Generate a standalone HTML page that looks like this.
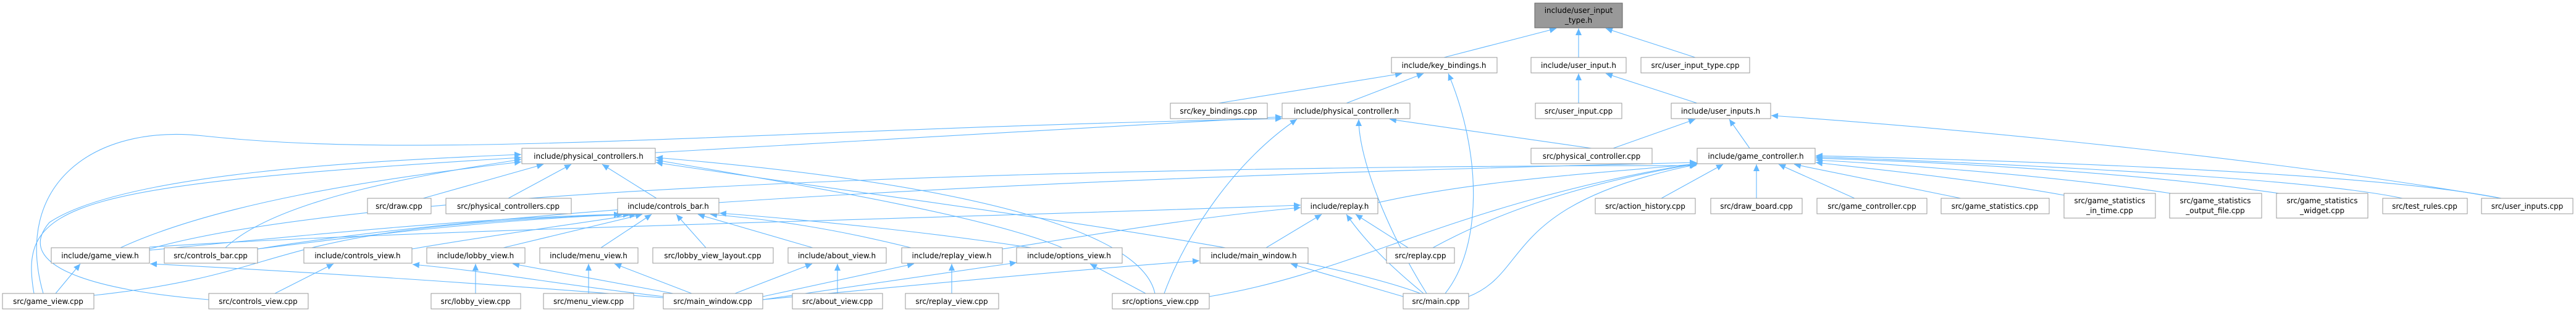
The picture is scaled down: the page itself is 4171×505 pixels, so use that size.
<!DOCTYPE html>
<html><head><meta charset="utf-8"><style>
html,body{margin:0;padding:0;background:#fff;}
svg{display:block;}
text{font-family:"DejaVu Sans","Liberation Sans",sans-serif;font-size:12px;fill:#000;}
.n{fill:#fff;stroke:#999;stroke-width:1;}
.e{fill:none;stroke:#63b8ff;stroke-width:1.1;}
</style></head><body>
<svg width="4171" height="505" viewBox="0 0 4171 505" xmlns="http://www.w3.org/2000/svg">
<defs><marker id="a" markerUnits="userSpaceOnUse" markerWidth="12" markerHeight="10" refX="11" refY="5" orient="auto"><path d="M0,0 L11,5 L0,10 z" fill="#63b8ff"/></marker></defs>
<g class="e" marker-end="url(#a)">
<path d="M2338,93 L2520,46"/>
<path d="M2556,93 L2556,46"/>
<path d="M2745,93 L2600,46"/>
<path d="M1973,167 L2270,119"/>
<path d="M2180,167 L2305,119"/>
<path d="M2340,475 C2400,400 2400,250 2345,119"/>
<path d="M2556,167 L2556,119"/>
<path d="M2748,167 L2600,119"/>
<path d="M1061,247 C1500,225 1800,205 2076,189"/>
<path d="M2577,240 L2250,193"/>
<path d="M2310,475 C2250,380 2200,260 2200,193"/>
<path d="M1885,475 C1920,380 2000,260 2100,193"/>
<path d="M70,475 C20,300 150,200 330,220 C700,260 1200,210 2076,192"/>
<path d="M823,321 L925,266"/>
<path d="M1063,321 L975,266"/>
<path d="M685,321 L880,266"/>
<path d="M195,401 C350,330 600,290 844,262"/>
<path d="M365,401 C450,320 700,280 844,258"/>
<path d="M55,475 C30,330 100,300 844,255"/>
<path d="M338,485 C150,470 20,430 80,360 C200,280 600,260 844,250"/>
<path d="M1720,401 C1600,350 1300,300 1062,259"/>
<path d="M2300,475 C2100,400 1500,330 1062,263"/>
<path d="M1870,475 C1850,380 1600,300 1062,255"/>
<path d="M2231,328 C2400,290 2600,280 2748,265"/>
<path d="M2690,321 L2790,266"/>
<path d="M2844,321 L2844,266"/>
<path d="M3003,321 L2880,266"/>
<path d="M3175,321 L2905,266"/>
<path d="M3342,316 C3200,290 3000,270 2940,263"/>
<path d="M3515,313 C3300,280 3000,262 2940,259"/>
<path d="M3690,313 C3400,270 3000,258 2940,256"/>
<path d="M3890,321 C3700,280 3000,256 2940,254"/>
<path d="M4050,321 C3800,270 3000,254 2940,252"/>
<path d="M4050,321 C3700,260 3200,210 2868,187"/>
<path d="M2833,240 L2800,193"/>
<path d="M2612,240 L2745,193"/>
<path d="M2320,401 C2450,330 2600,290 2748,265"/>
<path d="M2378,480 C2480,440 2430,330 2748,266"/>
<path d="M1958,480 C2200,440 2350,330 2748,264"/>
<path d="M242,403 C600,300 1800,268 2747,268"/>
<path d="M417,403 C800,340 1600,290 2747,263"/>
<path d="M242,405 C500,380 800,350 1010,347"/>
<path d="M417,403 C600,380 800,355 1020,347"/>
<path d="M667,403 C800,380 950,360 1030,347"/>
<path d="M815,401 L1040,347"/>
<path d="M973,401 L1055,347"/>
<path d="M1143,401 L1095,347"/>
<path d="M1316,401 L1130,347"/>
<path d="M1475,401 C1350,370 1250,355 1150,347"/>
<path d="M1670,401 C1500,375 1300,355 1165,345"/>
<path d="M152,478 C500,440 400,370 1005,347"/>
<path d="M1623,403 C1800,375 1950,350 2106,336"/>
<path d="M2050,401 L2140,347"/>
<path d="M2280,401 L2195,347"/>
<path d="M2305,475 C2250,430 2210,390 2180,347"/>
<path d="M242,400 C700,370 1500,355 2106,332"/>
<path d="M2272,480 L2090,427"/>
<path d="M1235,485 C1500,460 1700,440 1942,422"/>
<path d="M770,475 L770,427"/>
<path d="M953,475 L953,427"/>
<path d="M1356,475 L1356,427"/>
<path d="M1541,475 L1541,427"/>
<path d="M1855,475 L1765,427"/>
<path d="M90,475 L130,427"/>
<path d="M445,475 L540,427"/>
<path d="M1074,482 C800,460 500,440 243,427"/>
<path d="M1074,480 C900,460 800,440 668,428"/>
<path d="M1090,475 L830,427"/>
<path d="M1120,475 L995,427"/>
<path d="M1190,475 L1315,427"/>
<path d="M1235,480 L1480,427"/>
<path d="M1235,485 L1646,425"/>
</g>
<g>
<rect x="2485" y="5" width="142" height="40" fill="#999" stroke="#666"/>
<text x="2556" y="21" text-anchor="middle">include/user_input</text><text x="2556" y="37" text-anchor="middle">_type.h</text>
<rect class="n" x="2253" y="93" width="171" height="25"/><text x="2338" y="110" text-anchor="middle">include/key_bindings.h</text>
<rect class="n" x="2479" y="93" width="154" height="25"/><text x="2556" y="110" text-anchor="middle">include/user_input.h</text>
<rect class="n" x="2657" y="93" width="176" height="25"/><text x="2745" y="110" text-anchor="middle">src/user_input_type.cpp</text>
<rect class="n" x="1895" y="167" width="157" height="25"/><text x="1973" y="184" text-anchor="middle">src/key_bindings.cpp</text>
<rect class="n" x="2076" y="167" width="207" height="25"/><text x="2180" y="184" text-anchor="middle">include/physical_controller.h</text>
<rect class="n" x="2486" y="167" width="140" height="25"/><text x="2556" y="184" text-anchor="middle">src/user_input.cpp</text>
<rect class="n" x="2706" y="167" width="161" height="25"/><text x="2786" y="184" text-anchor="middle">include/user_inputs.h</text>
<rect class="n" x="845" y="240" width="216" height="25"/><text x="953" y="257" text-anchor="middle">include/physical_controllers.h</text>
<rect class="n" x="2479" y="240" width="196" height="25"/><text x="2577" y="257" text-anchor="middle">src/physical_controller.cpp</text>
<rect class="n" x="2748" y="240" width="191" height="25"/><text x="2843" y="257" text-anchor="middle">include/game_controller.h</text>
<rect class="n" x="595" y="321" width="103" height="25"/><text x="646" y="338" text-anchor="middle">src/draw.cpp</text>
<rect class="n" x="722" y="321" width="203" height="25"/><text x="823" y="338" text-anchor="middle">src/physical_controllers.cpp</text>
<rect class="n" x="1000" y="321" width="164" height="25"/><text x="1082" y="338" text-anchor="middle">include/controls_bar.h</text>
<rect class="n" x="2107" y="321" width="124" height="25"/><text x="2169" y="338" text-anchor="middle">include/replay.h</text>
<rect class="n" x="2583" y="321" width="162" height="25"/><text x="2664" y="338" text-anchor="middle">src/action_history.cpp</text>
<rect class="n" x="2770" y="321" width="148" height="25"/><text x="2844" y="338" text-anchor="middle">src/draw_board.cpp</text>
<rect class="n" x="2942" y="321" width="178" height="25"/><text x="3031" y="338" text-anchor="middle">src/game_controller.cpp</text>
<rect class="n" x="3143" y="321" width="175" height="25"/><text x="3230" y="338" text-anchor="middle">src/game_statistics.cpp</text>
<rect class="n" x="3342" y="313" width="148" height="40"/><text x="3416" y="329" text-anchor="middle">src/game_statistics</text><text x="3416" y="345" text-anchor="middle">_in_time.cpp</text>
<rect class="n" x="3513" y="313" width="149" height="40"/><text x="3587" y="329" text-anchor="middle">src/game_statistics</text><text x="3587" y="345" text-anchor="middle">_output_file.cpp</text>
<rect class="n" x="3686" y="313" width="148" height="40"/><text x="3760" y="329" text-anchor="middle">src/game_statistics</text><text x="3760" y="345" text-anchor="middle">_widget.cpp</text>
<rect class="n" x="3858" y="321" width="137" height="25"/><text x="3926" y="338" text-anchor="middle">src/test_rules.cpp</text>
<rect class="n" x="4018" y="321" width="148" height="25"/><text x="4092" y="338" text-anchor="middle">src/user_inputs.cpp</text>
<rect class="n" x="83" y="401" width="159" height="25"/><text x="162" y="418" text-anchor="middle">include/game_view.h</text>
<rect class="n" x="266" y="401" width="151" height="25"/><text x="341" y="418" text-anchor="middle">src/controls_bar.cpp</text>
<rect class="n" x="492" y="401" width="175" height="25"/><text x="579" y="418" text-anchor="middle">include/controls_view.h</text>
<rect class="n" x="691" y="401" width="159" height="25"/><text x="770" y="418" text-anchor="middle">include/lobby_view.h</text>
<rect class="n" x="874" y="401" width="159" height="25"/><text x="953" y="418" text-anchor="middle">include/menu_view.h</text>
<rect class="n" x="1057" y="401" width="195" height="25"/><text x="1154" y="418" text-anchor="middle">src/lobby_view_layout.cpp</text>
<rect class="n" x="1276" y="401" width="159" height="25"/><text x="1355" y="418" text-anchor="middle">include/about_view.h</text>
<rect class="n" x="1460" y="401" width="163" height="25"/><text x="1541" y="418" text-anchor="middle">include/replay_view.h</text>
<rect class="n" x="1646" y="401" width="171" height="25"/><text x="1731" y="418" text-anchor="middle">include/options_view.h</text>
<rect class="n" x="1943" y="401" width="175" height="25"/><text x="2030" y="418" text-anchor="middle">include/main_window.h</text>
<rect class="n" x="2245" y="401" width="110" height="25"/><text x="2300" y="418" text-anchor="middle">src/replay.cpp</text>
<rect class="n" x="4" y="475" width="148" height="25"/><text x="78" y="492" text-anchor="middle">src/game_view.cpp</text>
<rect class="n" x="338" y="475" width="161" height="25"/><text x="418" y="492" text-anchor="middle">src/controls_view.cpp</text>
<rect class="n" x="698" y="475" width="145" height="25"/><text x="770" y="492" text-anchor="middle">src/lobby_view.cpp</text>
<rect class="n" x="880" y="475" width="146" height="25"/><text x="953" y="492" text-anchor="middle">src/menu_view.cpp</text>
<rect class="n" x="1074" y="475" width="161" height="25"/><text x="1154" y="492" text-anchor="middle">src/main_window.cpp</text>
<rect class="n" x="1283" y="475" width="146" height="25"/><text x="1356" y="492" text-anchor="middle">src/about_view.cpp</text>
<rect class="n" x="1466" y="475" width="151" height="25"/><text x="1541" y="492" text-anchor="middle">src/replay_view.cpp</text>
<rect class="n" x="1801" y="475" width="157" height="25"/><text x="1879" y="492" text-anchor="middle">src/options_view.cpp</text>
<rect class="n" x="2272" y="475" width="106" height="25"/><text x="2325" y="492" text-anchor="middle">src/main.cpp</text>
</g>
</svg>
</body></html>
